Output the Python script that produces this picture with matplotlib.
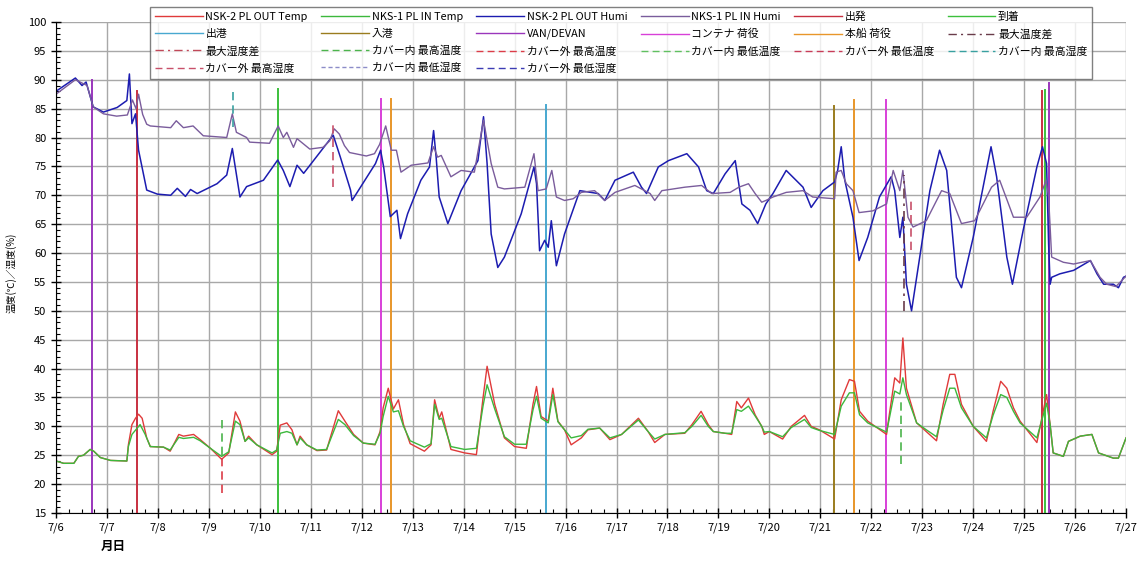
import matplotlib
matplotlib.use('Agg')
import matplotlib.pyplot as plt
from matplotlib.lines import Line2D
from matplotlib.ticker import MultipleLocator

plt.rcParams['font.family'] = ['Noto Sans CJK JP', 'DejaVu Sans']

# x = days since 7/6 00:00
hum_out = [(0, 88), (0.38, 90.3), (0.51, 89.0), (0.59, 89.6), (0.73, 85.3), (0.93, 84.4), (1.2, 85.2),
           (1.39, 86.4), (1.44, 91.0), (1.49, 82.4), (1.56, 84.1), (1.62, 77.8), (1.78, 70.9), (1.99, 70.2),
           (2.25, 70.0), (2.38, 71.2), (2.54, 69.8), (2.64, 71.0), (2.77, 70.3), (3.16, 72.0), (3.35, 73.5),
           (3.46, 78.1), (3.61, 69.7), (3.74, 71.5), (4.07, 72.6), (4.35, 76.1), (4.46, 74.3), (4.59, 71.5),
           (4.73, 75.2), (4.86, 73.8), (5.44, 80.4), (5.58, 76.6), (5.78, 70.9), (5.81, 69.1), (6.27, 75.5),
           (6.37, 77.8), (6.43, 74.9), (6.56, 66.3), (6.69, 67.4), (6.76, 62.5), (6.9, 66.8), (7.16, 72.6),
           (7.33, 74.9), (7.41, 81.2), (7.46, 76.6), (7.52, 69.7), (7.69, 65.1), (7.95, 70.8), (8.28, 76.0),
           (8.39, 83.6), (8.46, 75.5), (8.54, 63.3), (8.67, 57.5), (8.80, 59.3), (9.13, 66.8), (9.38, 74.9),
           (9.43, 72.0), (9.49, 60.4), (9.59, 62.2), (9.66, 61.0), (9.72, 65.6), (9.82, 57.8), (9.98, 63.3),
           (10.28, 70.8), (10.64, 70.3), (10.77, 69.1), (10.97, 72.6), (11.33, 74.0), (11.49, 71.4),
           (11.59, 70.3), (11.82, 74.9), (12.02, 76.0), (12.38, 77.2), (12.61, 74.9), (12.77, 70.8),
           (12.90, 70.3), (13.13, 73.7), (13.33, 76.0), (13.46, 68.5), (13.62, 67.4), (13.77, 65.1),
           (13.93, 68.5), (14.07, 70.3), (14.33, 74.3), (14.66, 71.4), (14.82, 67.9), (15.05, 70.8),
           (15.28, 72.3), (15.34, 74.3), (15.41, 78.4), (15.48, 72.6), (15.64, 66.2), (15.76, 58.7),
           (15.93, 62.7), (16.16, 69.7), (16.39, 73.2), (16.46, 70.8), (16.56, 62.7), (16.62, 66.2),
           (16.69, 54.6), (16.79, 50.0), (16.95, 59.3), (17.15, 70.8), (17.34, 77.8), (17.48, 74.3),
           (17.67, 55.8), (17.77, 54.0), (18.0, 62.7), (18.35, 78.4), (18.46, 73.2), (18.66, 59.3),
           (18.77, 54.6), (18.98, 63.9), (19.25, 74.9), (19.36, 78.4), (19.44, 75.5), (19.48, 61.6),
           (19.51, 54.6), (19.54, 55.8), (19.70, 56.4), (19.97, 57.0), (20.30, 58.7), (20.43, 56.4),
           (20.56, 54.6), (20.75, 54.6), (20.85, 54.0), (20.95, 55.8), (21.0, 56.0)]

hum_in = [(0, 87.5), (0.38, 90.0), (0.61, 89.0), (0.73, 85.3), (0.93, 84.1), (1.19, 83.7), (1.40, 83.9),
          (1.50, 86.5), (1.57, 85.0), (1.62, 87.5), (1.70, 84.0), (1.78, 82.3), (1.85, 82.0), (2.25, 81.7),
          (2.36, 82.9), (2.50, 81.7), (2.69, 82.0), (2.89, 80.3), (3.35, 80.0), (3.46, 84.1), (3.54, 80.9),
          (3.74, 80.0), (3.80, 79.2), (4.19, 79.0), (4.36, 82.0), (4.46, 80.0), (4.53, 80.9), (4.66, 78.3),
          (4.73, 79.8), (4.98, 78.0), (5.24, 78.3), (5.37, 79.4), (5.46, 81.5), (5.56, 80.6), (5.66, 78.6),
          (5.76, 77.4), (6.09, 76.8), (6.25, 77.2), (6.35, 78.8), (6.47, 82.0), (6.58, 77.8), (6.68, 77.8),
          (6.77, 74.0), (6.97, 75.2), (7.30, 75.6), (7.41, 78.4), (7.49, 76.6), (7.56, 76.9), (7.75, 73.2),
          (7.95, 74.3), (8.21, 74.0), (8.39, 83.0), (8.54, 75.5), (8.67, 71.4), (8.80, 71.1), (9.20, 71.4),
          (9.38, 77.2), (9.46, 70.8), (9.62, 71.1), (9.73, 74.3), (9.82, 69.7), (9.98, 69.1), (10.15, 69.4),
          (10.31, 70.5), (10.57, 70.8), (10.77, 69.1), (10.97, 70.5), (11.36, 71.7), (11.66, 70.3),
          (11.75, 69.1), (11.89, 70.8), (12.34, 71.4), (12.67, 71.7), (12.87, 70.3), (13.23, 70.5),
          (13.40, 71.4), (13.59, 72.0), (13.72, 70.3), (13.85, 68.8), (13.93, 69.1), (14.07, 69.7),
          (14.33, 70.5), (14.66, 70.8), (14.85, 69.7), (15.28, 69.4), (15.31, 74.0), (15.41, 74.3),
          (15.51, 72.0), (15.64, 70.8), (15.76, 67.0), (16.03, 67.3), (16.30, 68.5), (16.39, 72.6),
          (16.43, 74.3), (16.56, 70.8), (16.62, 74.3), (16.72, 66.2), (16.82, 64.5), (17.08, 65.6),
          (17.38, 70.8), (17.54, 70.3), (17.77, 65.1), (18.03, 65.6), (18.36, 71.4), (18.52, 72.6),
          (18.79, 66.2), (19.05, 66.2), (19.31, 69.7), (19.43, 72.6), (19.48, 69.7), (19.54, 59.3),
          (19.77, 58.4), (19.97, 58.1), (20.30, 58.7), (20.49, 55.8), (20.62, 54.6), (20.80, 54.2), (21.0, 56.0)]

temp_out = [(0, 24.0), (0.15, 23.6), (0.35, 23.6), (0.44, 24.8), (0.54, 25.0), (0.67, 26.0), (0.74, 25.7),
            (0.87, 24.6), (1.07, 24.1), (1.39, 24.0), (1.42, 26.8), (1.49, 30.3), (1.56, 31.4), (1.62, 32.1),
            (1.69, 31.4), (1.78, 28.0), (1.85, 26.5), (2.11, 26.4), (2.24, 25.7), (2.41, 28.6), (2.50, 28.3),
            (2.70, 28.6), (2.83, 27.7), (3.03, 26.2), (3.25, 24.3), (3.39, 25.4), (3.52, 32.5), (3.61, 30.9),
            (3.71, 27.4), (3.78, 28.3), (3.94, 26.8), (4.24, 25.1), (4.33, 25.7), (4.40, 30.2), (4.53, 30.6),
            (4.63, 29.4), (4.73, 26.8), (4.79, 28.3), (4.92, 26.8), (5.12, 25.8), (5.31, 25.9), (5.54, 32.7),
            (5.67, 30.9), (5.84, 28.6), (6.03, 27.1), (6.26, 26.8), (6.36, 29.1), (6.42, 33.2), (6.52, 36.6),
            (6.62, 33.0), (6.72, 34.6), (6.82, 30.3), (6.95, 27.0), (7.23, 25.7), (7.36, 26.8), (7.43, 34.6),
            (7.52, 31.4), (7.57, 32.5), (7.75, 26.0), (8.02, 25.4), (8.25, 25.1), (8.38, 34.9), (8.46, 40.4),
            (8.61, 33.8), (8.80, 28.0), (9.00, 26.5), (9.23, 26.2), (9.36, 33.8), (9.43, 36.9), (9.52, 31.7),
            (9.66, 30.9), (9.75, 36.6), (9.85, 30.9), (9.98, 29.4), (10.11, 26.8), (10.31, 28.0), (10.44, 29.4),
            (10.67, 29.7), (10.87, 27.7), (11.10, 28.6), (11.43, 31.4), (11.62, 29.1), (11.75, 27.2),
            (11.95, 28.6), (12.34, 28.8), (12.48, 30.3), (12.66, 32.6), (12.80, 30.3), (12.90, 29.1),
            (13.13, 28.8), (13.26, 28.6), (13.36, 34.3), (13.45, 33.2), (13.59, 34.9), (13.72, 32.0),
            (13.85, 30.0), (13.90, 28.6), (14.00, 29.1), (14.26, 27.8), (14.43, 30.0), (14.69, 31.9),
            (14.82, 30.0), (14.98, 29.4), (15.28, 27.8), (15.41, 34.6), (15.57, 38.1), (15.67, 37.8),
            (15.77, 32.6), (15.93, 30.9), (16.30, 28.6), (16.33, 30.6), (16.46, 38.4), (16.56, 37.5),
            (16.62, 45.3), (16.69, 36.6), (16.89, 30.6), (17.08, 29.1), (17.28, 27.5), (17.41, 33.8),
            (17.54, 39.0), (17.64, 39.0), (17.77, 33.8), (18.00, 30.0), (18.26, 27.4), (18.39, 32.6),
            (18.54, 37.8), (18.66, 36.6), (18.79, 33.2), (18.92, 30.9), (19.25, 27.2), (19.44, 35.5),
            (19.51, 30.3), (19.57, 25.4), (19.77, 24.8), (19.87, 27.4), (20.10, 28.3), (20.33, 28.6),
            (20.46, 25.4), (20.75, 24.5), (20.85, 24.5), (21.0, 28.0)]

temp_in = [(0, 24.0), (0.15, 23.6), (0.35, 23.6), (0.44, 24.8), (0.54, 25.0), (0.67, 26.0), (0.74, 25.7),
           (0.87, 24.6), (1.07, 24.1), (1.39, 24.0), (1.42, 26.5), (1.49, 28.6), (1.65, 30.3), (1.75, 28.6),
           (1.85, 26.5), (2.11, 26.4), (2.24, 25.9), (2.41, 28.1), (2.50, 27.9), (2.70, 28.1), (2.83, 27.5),
           (3.03, 26.2), (3.25, 24.8), (3.39, 25.6), (3.52, 30.9), (3.61, 30.3), (3.71, 27.4), (3.78, 28.0),
           (3.94, 26.8), (4.24, 25.4), (4.33, 25.9), (4.40, 28.8), (4.53, 29.1), (4.63, 28.8), (4.73, 26.8),
           (4.79, 28.0), (4.92, 26.8), (5.12, 25.9), (5.31, 26.0), (5.54, 31.2), (5.67, 30.3), (5.84, 28.4),
           (6.03, 27.1), (6.26, 26.9), (6.36, 28.8), (6.42, 31.7), (6.52, 35.2), (6.62, 32.5), (6.72, 32.7),
           (6.82, 30.0), (6.95, 27.5), (7.23, 26.4), (7.36, 27.0), (7.43, 33.8), (7.52, 31.2), (7.57, 31.4),
           (7.75, 26.5), (8.02, 26.0), (8.25, 26.2), (8.38, 33.5), (8.46, 37.2), (8.61, 33.0), (8.80, 28.2),
           (9.00, 26.9), (9.23, 26.9), (9.36, 32.8), (9.43, 35.2), (9.52, 31.4), (9.66, 30.6), (9.75, 35.5),
           (9.85, 30.8), (9.98, 29.4), (10.11, 28.0), (10.31, 28.4), (10.44, 29.5), (10.67, 29.7),
           (10.87, 28.0), (11.10, 28.6), (11.43, 31.1), (11.62, 29.1), (11.75, 27.8), (11.95, 28.6),
           (12.34, 28.9), (12.48, 30.0), (12.66, 31.9), (12.80, 30.0), (12.90, 29.1), (13.13, 28.8),
           (13.26, 28.8), (13.36, 32.9), (13.45, 32.6), (13.59, 33.5), (13.72, 31.8), (13.85, 30.0),
           (13.90, 29.0), (14.00, 29.1), (14.26, 28.2), (14.43, 29.8), (14.69, 31.2), (14.82, 29.8),
           (14.98, 29.3), (15.28, 28.6), (15.41, 33.5), (15.57, 35.8), (15.67, 35.8), (15.77, 32.0),
           (15.93, 30.6), (16.30, 29.0), (16.33, 30.3), (16.46, 36.1), (16.56, 35.6), (16.62, 38.4),
           (16.69, 35.5), (16.89, 30.6), (17.08, 29.4), (17.28, 28.2), (17.41, 32.8), (17.54, 36.6),
           (17.64, 36.6), (17.77, 33.2), (18.00, 30.0), (18.26, 28.0), (18.39, 31.9), (18.54, 35.5),
           (18.66, 35.0), (18.79, 32.6), (18.92, 30.6), (19.25, 28.0), (19.44, 34.0), (19.51, 30.3),
           (19.57, 25.4), (19.77, 24.8), (19.87, 27.4), (20.10, 28.3), (20.33, 28.6), (20.46, 25.4),
           (20.75, 24.5), (20.85, 24.5), (21.0, 28.0)]

# event lines: (day, top value), all start at 15
ev_depart = [(1.58, 88.0), (19.36, 88.0)]
ev_arrive = [(4.35, 88.4), (19.40, 88.3)]
ev_sail = [(9.61, 85.6)]
ev_port = [(15.26, 85.5)]
ev_van = [(0.71, 90.0), (19.49, 89.5)]
ev_cont = [(6.37, 86.7), (16.29, 86.5)]
ev_ship = [(6.57, 86.7), (15.66, 86.5)]

# max/min markers: (day, low, high)
mk_in_tmax = [(3.25, 25.0, 32.0), (16.58, 23.5, 34.5)]
mk_out_tmax = [(3.25, 18.5, 25.0)]
mk_in_hmax = [(3.47, 81.8, 88.5)]
mk_out_hmax = [(5.43, 71.5, 82.5), (16.78, 60.5, 69.2)]
mk_hdiff = [(16.65, 50.0, 73.5)]

xlabels = ['7/6', '7/7', '7/8', '7/9', '7/10', '7/11', '7/12', '7/13', '7/14', '7/15', '7/16',
           '7/17', '7/18', '7/19', '7/20', '7/21', '7/22', '7/23', '7/24', '7/25', '7/26', '7/27']

fig = plt.figure(figsize=(11.41, 5.62), dpi=100)
ax = fig.add_axes([0.0491, 0.0872, 0.9378, 0.8737])

styles = {
    'NSK-2 PL OUT Temp': dict(color='#e03a3a', lw=1.0),
    'NKS-1 PL IN Temp': dict(color='#3cb83c', lw=1.0),
    'NSK-2 PL OUT Humi': dict(color='#1c1cb0', lw=1.1),
    'NKS-1 PL IN Humi': dict(color='#7a5c9c', lw=1.0),
    '出発': dict(color='#c83040', lw=1.4),
    '到着': dict(color='#3cc03c', lw=1.4),
    '出港': dict(color='#48a8d0', lw=1.4),
    '入港': dict(color='#9a7c1e', lw=1.4),
    'VAN/DEVAN': dict(color='#9a36bc', lw=1.4),
    'コンテナ 荷役': dict(color='#d840d8', lw=1.4),
    '本船 荷役': dict(color='#e8962a', lw=1.4),
    '最大温度差': dict(color='#6a3c4a', lw=1.2, ls=(0, (6, 3, 1.5, 3))),
    '最大湿度差': dict(color='#c04858', lw=1.2, ls=(0, (6, 3, 1.5, 3))),
    'カバー内 最高温度': dict(color='#4cb44c', lw=1.2, ls=(0, (5, 3))),
    'カバー外 最高温度': dict(color='#dc3c48', lw=1.2, ls=(0, (5, 3))),
    'カバー内 最低温度': dict(color='#60c060', lw=1.2, ls=(0, (5, 3))),
    'カバー外 最低温度': dict(color='#c83c58', lw=1.2, ls=(0, (5, 3))),
    'カバー内 最高湿度': dict(color='#38a0a0', lw=1.2, ls=(0, (5, 3))),
    'カバー外 最高湿度': dict(color='#c8506a', lw=1.2, ls=(0, (5, 3))),
    'カバー内 最低湿度': dict(color='#8c8cc8', lw=1.2, ls=(0, (3, 2))),
    'カバー外 最低湿度': dict(color='#3c3cb4', lw=1.2, ls=(0, (5, 3))),
}

# grid
ax.set_xlim(0, 21)
ax.set_ylim(15, 100)
ax.xaxis.set_major_locator(MultipleLocator(1))
ax.xaxis.set_minor_locator(MultipleLocator(0.25))
ax.yaxis.set_major_locator(MultipleLocator(5))
ax.yaxis.set_minor_locator(MultipleLocator(1))
ax.grid(True, which='major', color='#a8a8a8', lw=1.0)
ax.set_axisbelow(True)
ax.set_xticks(range(len(xlabels)))
ax.set_xticklabels(xlabels, fontsize=8)
ax.tick_params(axis='y', labelsize=8)
ax.tick_params(which='major', direction='inout', length=7, width=1)
ax.tick_params(which='minor', direction='in', length=3, width=0.8)
for s in ['top', 'right']:
    ax.spines[s].set_visible(False)

def vl(events, name, low=15):
    for d, top in events:
        ax.plot([d, d], [low, top], **styles[name])

def mk(marks, name):
    for d, lo, hi in marks:
        ax.plot([d, d], [lo, hi], **styles[name])

vl(ev_van, 'VAN/DEVAN')
vl(ev_depart, '出発')
vl(ev_arrive, '到着')
vl(ev_sail, '出港')
vl(ev_port, '入港')
vl(ev_cont, 'コンテナ 荷役')
vl(ev_ship, '本船 荷役')

for name, series in [('NSK-2 PL OUT Temp', temp_out), ('NKS-1 PL IN Temp', temp_in),
                     ('NSK-2 PL OUT Humi', hum_out), ('NKS-1 PL IN Humi', hum_in)]:
    ax.plot([p[0] for p in series], [p[1] for p in series], **styles[name])

mk(mk_in_tmax, 'カバー内 最高温度')
mk(mk_out_tmax, 'カバー外 最高温度')
mk(mk_in_hmax, 'カバー内 最高湿度')
mk(mk_out_hmax, 'カバー外 最高湿度')
mk(mk_hdiff, '最大温度差')

ax.set_ylabel('温度(℃)／湿度(%)', fontsize=7)
ax.yaxis.set_label_coords(-0.037, 0.49)
fig.text(0.088, 0.022, '月日', fontsize=9, fontweight='bold')

# legend in row-major order over 6 columns
rows = [
    ['NSK-2 PL OUT Temp', 'NKS-1 PL IN Temp', 'NSK-2 PL OUT Humi', 'NKS-1 PL IN Humi', '出発', '到着'],
    ['出港', '入港', 'VAN/DEVAN', 'コンテナ 荷役', '本船 荷役', '最大温度差'],
    ['最大湿度差', 'カバー内 最高温度', 'カバー外 最高温度', 'カバー内 最低温度', 'カバー外 最低温度', 'カバー内 最高湿度'],
    ['カバー外 最高湿度', 'カバー内 最低湿度', 'カバー外 最低湿度'],
]
order = []
for c in range(6):
    for r in rows:
        if c < len(r):
            order.append(r[c])
handles = [Line2D([], [], **{**styles[n], 'lw': 1.0}) for n in order]
leg = fig.legend(handles, order, loc='upper left', bbox_to_anchor=(0.1315, 0.988), ncol=6,
                 fontsize=7.8, handlelength=4.4, handletextpad=0.25, columnspacing=1.25,
                 labelspacing=0.62, borderpad=0.45, borderaxespad=0, frameon=True, fancybox=False)
leg.get_frame().set_edgecolor('#606060')
leg.get_frame().set_linewidth(1.0)

fig.savefig('out.png', dpi=100)
